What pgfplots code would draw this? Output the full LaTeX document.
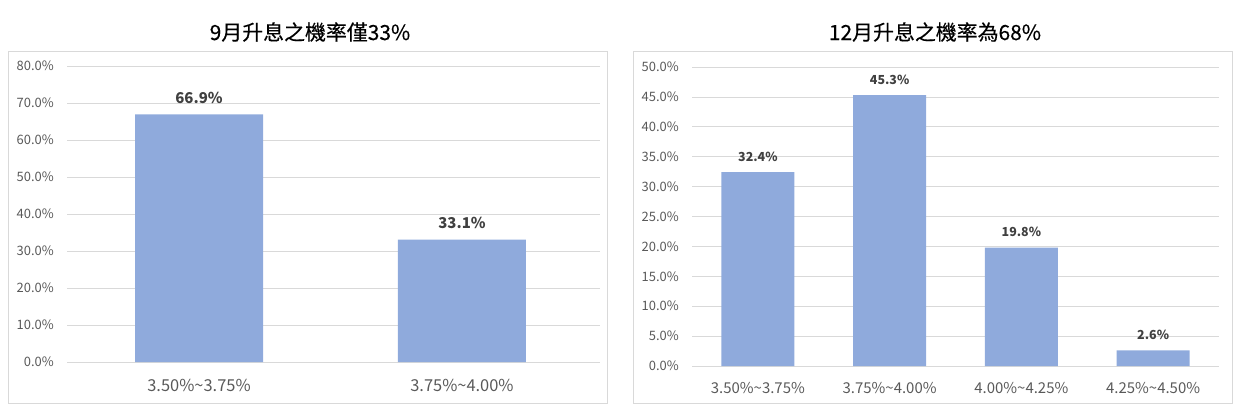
\documentclass[border=0pt]{standalone}
\usepackage{pgfplots}
\pgfplotsset{compat=1.18}
\usepackage{fontspec}
\setmainfont{Noto Sans CJK TC}
\newfontfamily\titlefont[FakeBold=0.4]{Noto Sans CJK TC}
\definecolor{barc}{HTML}{8FAADC}
\definecolor{gridc}{HTML}{D9D9D9}
\definecolor{tickc}{HTML}{595959}
\definecolor{labc}{HTML}{404040}
\pgfplotsset{
  common/.style={
    scale only axis,
    anchor=south west,
    axis line style={draw=none},
    axis x line*=bottom,
    ymajorgrids,
    grid style={gridc, line width=0.8pt},
    major tick length=0pt,
    ybar,
    xtick=data,
    ymin=0,
    /pgf/number format/assume math mode=true,
    yticklabel={\pgfmathprintnumber[fixed,fixed zerofill,precision=1]{\tick}\%},
    yticklabel style={font=\fontsize{13}{13}\selectfont, text=tickc, anchor=east, inner sep=0pt, xshift=-13bp},
    xticklabel style={text=tickc, anchor=base, inner sep=0pt},
    nodes near coords={\pgfmathprintnumber[fixed,fixed zerofill,precision=1]{\pgfplotspointmeta}\%},
    nodes near coords style={text=labc, anchor=base, inner sep=0pt, yshift=11bp},
  }
}
\begin{document}
\begin{tikzpicture}[x=1bp,y=1bp]
\useasboundingbox (0,0) rectangle (1245,416);
\draw[gridc, line width=0.8pt] (8,13) rectangle (607,365);
\draw[gridc, line width=0.8pt] (633,13) rectangle (1232,365);
\node[font=\titlefont\fontsize{21}{21}\selectfont] at (310,384) {9月升息之機率僅33\%};
\node[font=\titlefont\fontsize{21}{21}\selectfont] at (935,384) {12月升息之機率為68\%};
\begin{axis}[common,
  at={(67bp,54bp)}, width=533bp, height=296bp,
  xmin=-0.502, xmax=1.525, ymax=80, ytick={0,10,...,80},
  bar width=128bp,
  xticklabels={3.50\%\textasciitilde3.75\%, 3.75\%\textasciitilde4.00\%},
  xticklabel style={font=\fontsize{16.5}{16.5}\selectfont, yshift=-29bp},
  nodes near coords style={font=\bfseries\fontsize{15}{15}\selectfont},
]
\addplot[fill=barc, draw=none] coordinates {(0,66.9) (1,33.1)};
\end{axis}
\begin{axis}[common,
  at={(692bp,50bp)}, width=527bp, height=299bp,
  xmin=-0.5, xmax=3.5, ymax=50, ytick={0,5,...,50},
  bar width=73bp,
  xticklabels={3.50\%\textasciitilde3.75\%, 3.75\%\textasciitilde4.00\%, 4.00\%\textasciitilde4.25\%, 4.25\%\textasciitilde4.50\%},
  xticklabel style={font=\fontsize{15}{15}\selectfont, yshift=-27bp},
  nodes near coords style={font=\bfseries\fontsize{12.5}{12.5}\selectfont},
]
\addplot[fill=barc, draw=none] coordinates {(0,32.4) (1,45.3) (2,19.8) (3,2.6)};
\end{axis}
\end{tikzpicture}
\end{document}
